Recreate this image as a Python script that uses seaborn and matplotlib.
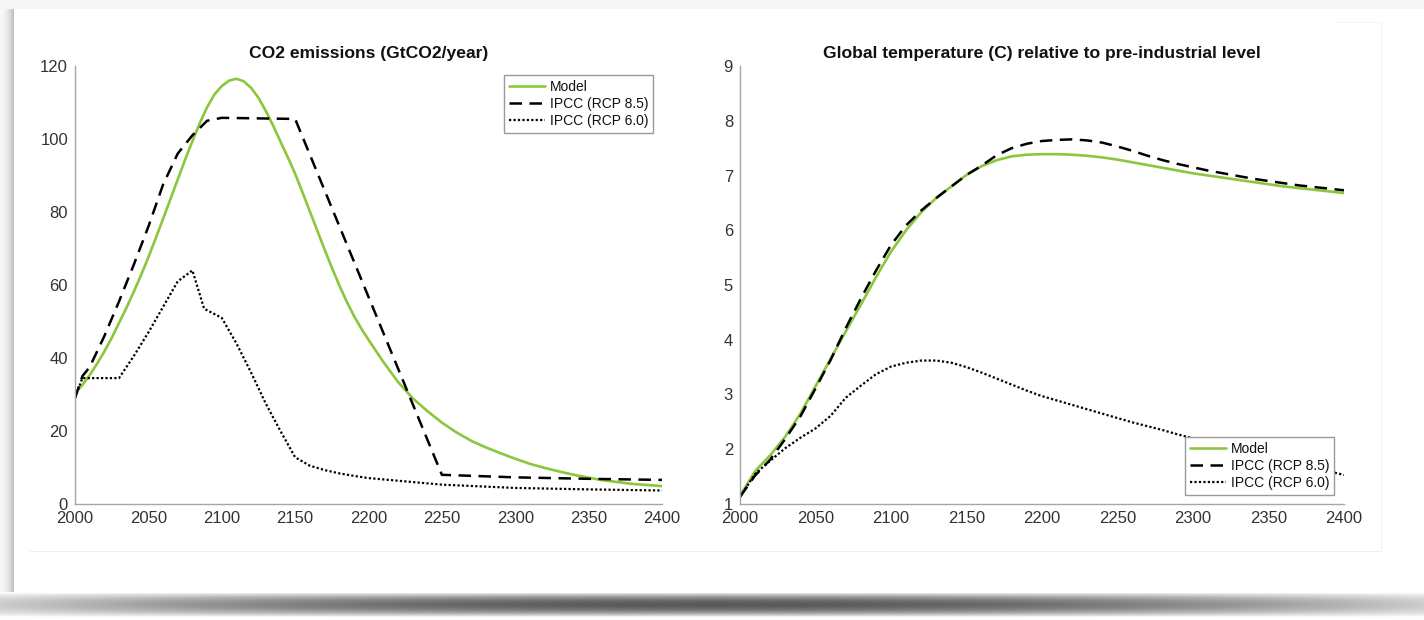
import numpy as np
import pandas as pd
import matplotlib
matplotlib.use("Agg")
import matplotlib.pyplot as plt
import seaborn as sns

# ---------------- data ----------------
YEARS_10 = list(range(2000, 2401, 10))

co2_model_years = list(range(2000, 2200, 5)) + list(range(2200, 2401, 10))
co2_model = [30.4, 32.6, 35.3, 38.4, 41.8, 45.5, 49.6, 53.7, 58.1, 62.7,
             67.6, 72.8, 78.1, 83.5, 88.9, 94.3, 99.4, 104.3, 108.7, 112.2,
             114.5, 116.0, 116.5, 115.8, 114.0, 111.3, 107.7, 103.7, 99.3, 95.0,
             90.5, 85.4, 80.2, 75.0, 69.8, 64.8, 60.0, 55.6, 51.6, 48.1,
             45.0, 39.0, 33.5, 29.0, 25.5, 22.3, 19.6, 17.3, 15.5, 13.9,
             12.4, 11.0, 9.9, 8.9, 8.0, 7.2, 6.5, 6.0, 5.5, 5.2, 4.9]

co2_rcp85_years = [2000, 2005, 2010, 2020, 2030, 2040, 2050, 2060, 2070, 2080,
                   2090, 2100, 2150, 2250, 2300, 2350, 2400]
co2_rcp85 = [29.0, 35.0, 37.5, 46.0, 55.5, 65.5, 76.0, 87.5, 96.0, 101.0,
             105.0, 105.8, 105.5, 8.0, 7.3, 6.9, 6.6]

co2_rcp60_years = [2000, 2005, 2030, 2040, 2050, 2060, 2070, 2080, 2088, 2100,
                   2110, 2120, 2130, 2140, 2150, 2160, 2170, 2180, 2190, 2200,
                   2250, 2300, 2350, 2400]
co2_rcp60 = [29.0, 34.5, 34.5, 40.5, 47.0, 54.0, 61.0, 64.0, 53.5, 51.0,
             44.0, 36.0, 27.5, 20.0, 12.8, 10.5, 9.3, 8.4, 7.7, 7.1,
             5.3, 4.4, 4.0, 3.7]

temp_model = [1.15, 1.60, 1.89, 2.23, 2.65, 3.15, 3.65, 4.15, 4.64, 5.14,
              5.61, 6.00, 6.33, 6.59, 6.80, 7.01, 7.17, 7.28, 7.35, 7.38,
              7.39, 7.39, 7.38, 7.36, 7.33, 7.29, 7.24, 7.19, 7.14, 7.09,
              7.04, 7.00, 6.96, 6.92, 6.88, 6.84, 6.80, 6.77, 6.74, 6.71, 6.68]

temp_rcp85 = [1.13, 1.52, 1.81, 2.19, 2.60, 3.11, 3.63, 4.21, 4.75, 5.26,
              5.73, 6.09, 6.36, 6.59, 6.80, 7.01, 7.18, 7.37, 7.50, 7.58,
              7.63, 7.65, 7.66, 7.64, 7.60, 7.53, 7.45, 7.36, 7.28, 7.21,
              7.15, 7.09, 7.04, 6.99, 6.94, 6.90, 6.86, 6.82, 6.79, 6.76, 6.73]

temp_rcp60 = [1.13, 1.55, 1.79, 2.02, 2.21, 2.38, 2.61, 2.94, 3.16, 3.37,
              3.51, 3.58, 3.62, 3.62, 3.58, 3.50, 3.40, 3.29, 3.18, 3.07,
              2.97, 2.89, 2.81, 2.73, 2.65, 2.57, 2.49, 2.42, 2.35, 2.27,
              2.20, 2.13, 2.07, 2.00, 1.93, 1.87, 1.80, 1.73, 1.67, 1.60, 1.53]

labels = ["Model", "IPCC (RCP 8.5)", "IPCC (RCP 6.0)"]
titles = ["CO2 emissions (GtCO2/year)",
          "Global temperature (C) relative to pre-industrial level"]
x_ticks = list(range(2000, 2401, 50))
co2_ticks = list(range(0, 121, 20))
temp_ticks = list(range(1, 10))

# ---------------- style ----------------
sns.set_theme(style="white")
plt.rcParams["font.family"] = ["Liberation Sans", "DejaVu Sans"]

GREEN = "#8cc63c"
AX_GRAY = "#a6a6a6"
TXT = "#333333"

W, H = 1424, 620
fig = plt.figure(figsize=(W / 100, H / 100), dpi=100)
fig.patch.set_facecolor("white")

# ---- screenshot frame decoration (background) ----
bg = fig.add_axes([0, 0, 1, 1], zorder=-10)
img = np.ones((H, W, 3))
img[0:9, :, :] = 0.965
for i in range(0, 14):
    v = 0.97 - 0.22 * (i / 13.0) ** 2
    img[9:596, i, :] = v
xs = np.linspace(-1, 1, W)
center_dark = 0.35 + 0.45 * xs ** 2
y0 = 592
for j, y in enumerate(range(y0, H)):
    t = j / (H - y0)
    prof = 1 - np.sin(np.pi * min(1.0, t * 1.15)) ** 0.8 * (1 - center_dark)
    img[y, :, :] = np.clip(prof, 0, 1)[:, None] * np.ones(3)
img[551, 30:1382, :] = 0.94
img[22, 1335:1382, :] = 0.96
img[22:551, 1381, :] = 0.95
bg.imshow(img, aspect="auto", extent=[0, 1, 0, 1], interpolation="bilinear")
bg.set_axis_off()

axL = fig.add_axes([75 / W, 1 - 504 / H, 587 / W, 438 / H])
axR = fig.add_axes([740 / W, 1 - 504 / H, 604 / W, 438 / H])

dash_style = (0, (5, 3))
dot_style = (0, (1, 1))

# left: CO2 emissions
sns.lineplot(x=co2_model_years, y=co2_model, ax=axL, color=GREEN, lw=1.9, label=labels[0])
sns.lineplot(x=co2_rcp85_years, y=co2_rcp85, ax=axL, color="black", lw=1.8,
             linestyle=dash_style, label=labels[1])
sns.lineplot(x=co2_rcp60_years, y=co2_rcp60, ax=axL, color="black", lw=1.6,
             linestyle=dot_style, label=labels[2])

# right: temperature
sns.lineplot(x=YEARS_10, y=temp_model, ax=axR, color=GREEN, lw=1.9, label=labels[0])
sns.lineplot(x=YEARS_10, y=temp_rcp85, ax=axR, color="black", lw=1.8,
             linestyle=dash_style, label=labels[1])
sns.lineplot(x=YEARS_10, y=temp_rcp60, ax=axR, color="black", lw=1.6,
             linestyle=dot_style, label=labels[2])

for ax, title, yt in [(axL, titles[0], co2_ticks), (axR, titles[1], temp_ticks)]:
    ax.set_xlim(2000, 2400)
    ax.set_ylim(yt[0], yt[-1])
    ax.set_xticks(x_ticks)
    ax.set_yticks(yt)
    ax.set_xlabel("")
    ax.set_ylabel("")
    ax.set_facecolor("none")
    for s in ["top", "right"]:
        ax.spines[s].set_visible(False)
    for s in ["left", "bottom"]:
        ax.spines[s].set_color(AX_GRAY)
        ax.spines[s].set_linewidth(1.0)
    ax.tick_params(axis="both", direction="in", length=4.5, width=0.9,
                   color=AX_GRAY, labelcolor=TXT, labelsize=12)
    ax.tick_params(axis="x", pad=5)
    ax.tick_params(axis="y", pad=5)
    ax.set_title(title, fontsize=12.6, fontweight="bold", color="#111111", pad=6)

leg_kw = dict(fontsize=10, frameon=True, fancybox=False, handlelength=2.6,
              handletextpad=0.35, labelspacing=0.22, borderpad=0.35,
              borderaxespad=0.0, labelcolor="#111111")
legL = axL.legend(loc="upper right", bbox_to_anchor=(653 / W, 1 - 75 / H),
                  bbox_transform=fig.transFigure, **leg_kw)
legR = axR.legend(loc="lower right", bbox_to_anchor=(1334 / W, 1 - 495 / H),
                  bbox_transform=fig.transFigure, **leg_kw)
for leg in (legL, legR):
    fr = leg.get_frame()
    fr.set_edgecolor("#9a9a9a")
    fr.set_linewidth(1.0)
    fr.set_facecolor("white")
    fr.set_alpha(1.0)

fig.savefig("out.png", dpi=100, facecolor="white")
